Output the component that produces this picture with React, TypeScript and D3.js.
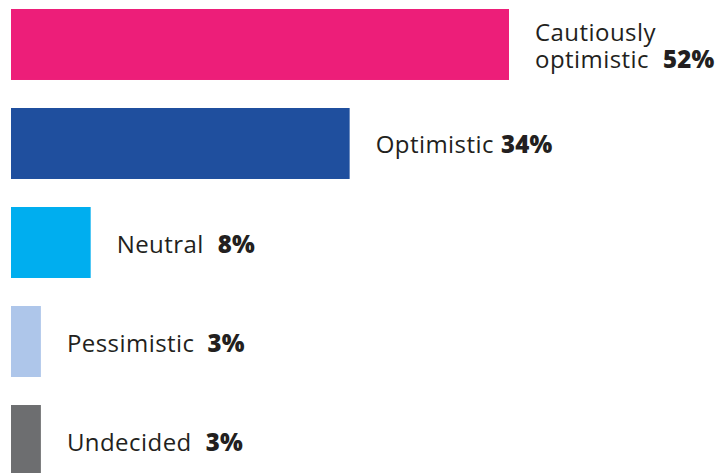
import * as d3 from 'd3';

const categories = ['Cautiously optimistic', 'Optimistic', 'Neutral', 'Pessimistic', 'Undecided'];
// label lines as printed next to each bar
const labelLines = [['Cautiously', 'optimistic'], ['Optimistic'], ['Neutral'], ['Pessimistic'], ['Undecided']];
const percentLabels = ['52%', '34%', '8%', '3%', '3%'];
// bar lengths
const barValues = [50, 34, 8, 3, 3];
const colors = ['#ED1E79', '#1F4F9E', '#00AEEF', '#AEC6EA', '#6D6E70'];
const gaps = [14, 7, 14, 13, 14];

export default function App() {
    const width = 727;
    const height = 473;
    const left = 11;

    const xScale = d3.scaleLinear().domain([0, 100]).range([0, 996]);

    const yScale = d3
        .scaleBand()
        .domain(categories)
        .range([9, 476])
        .paddingInner(0.283)
        .paddingOuter(0);

    return (
        <div style={{ position: 'absolute', left: 0, top: 0 }}>
            <svg width={width} height={height} style={{ display: 'block' }}>
                {categories.map((c, i) => {
                    const y = yScale(c) as number;
                    const bw = yScale.bandwidth();
                    const w = xScale(barValues[i]);
                    const lines = labelLines[i];
                    const cy = y + bw / 2;
                    const lh = 27;
                    const firstBase = cy + 10 - ((lines.length - 1) * lh) / 2;
                    const tx = left + w + 26;
                    return (
                        <g key={c}>
                            <rect x={left} y={y} width={w} height={bw} fill={colors[i]} />
                            {lines.map((l, j) => (
                                <text
                                    key={j}
                                    x={tx}
                                    y={firstBase + j * lh}
                                    fontFamily="'Open Sans', sans-serif"
                                    fontSize={24}
                                    letterSpacing={0.45}
                                    fill="#231F20"
                                >
                                    {l}
                                    {j === lines.length - 1 && (
                                        <tspan dx={gaps[i]} fontWeight={800} letterSpacing={0.2}>
                                            {percentLabels[i]}
                                        </tspan>
                                    )}
                                </text>
                            ))}
                        </g>
                    );
                })}
            </svg>
        </div>
    );
}
